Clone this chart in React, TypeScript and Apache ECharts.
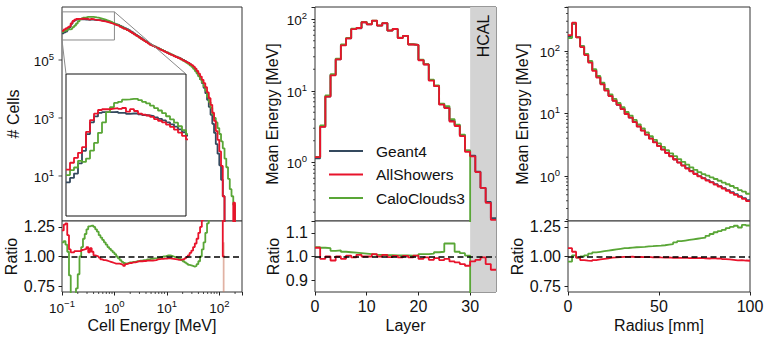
import React, { useEffect, useRef } from "react";
import * as echarts from "echarts";

// ---------------- shared ----------------
const SERIES_NAMES = ["Geant4", "AllShowers", "CaloClouds3"];
const COL_G4 = "#34495e";
const COL_AS = "#e8132b";
const COL_CC = "#59a636";
const TEXT = "#111111";
const FONT = "Liberation Sans";

// ---------------- left: cell energy spectrum ----------------
const CELL_LOG_E_MIN = -1;
const CELL_BINS_PER_DECADE = 30;
const CELL_X_RANGE = [0.1, 271.2];
const CELL_Y_RANGE = [0.28, 6.73e6];
const CELL_Y_LABELLED = [10, 1e3, 1e5];
const CELL_INSET_X = [0.1, 1.0];
const CELL_INSET_Y = [4.9e5, 4.57e6];
const CELL_RATIO_TICKS = [0.75, 1.0, 1.25];

const cellG4Counts = [
  8.32e5, 8.91e5, 9.55e5, 1.122e6, 1.365e6, 1.778e6, 2.138e6, 2.344e6, 2.483e6, 2.512e6,
  2.512e6, 2.51e6, 2.52e6, 2.48e6, 2.48e6, 2.44e6, 2.455e6, 2.455e6, 2.427e6, 2.399e6,
  2.38e6, 2.355e6, 2.307e6, 2.259e6, 2.203e6, 2.138e6, 2.07e6, 1.995e6, 1.914e6, 1.828e6,
  1.738e6, 1.66e6, 1.585e6, 1.496e6, 1.413e6, 1.318e6, 1.23e6, 1.148e6, 1.072e6, 9.77e5,
  8.91e5, 8.13e5, 7.41e5, 6.76e5, 6.17e5, 5.62e5, 5.13e5, 4.68e5, 4.27e5, 3.89e5,
  3.55e5, 3.31e5, 3.09e5, 2.88e5, 2.69e5, 2.51e5, 2.34e5, 2.19e5, 2.04e5, 1.905e5,
  1.778e5, 1.66e5, 1.567e5, 1.479e5, 1.38e5, 1.303e5, 1.23e5, 1.161e5, 1.072e5, 1.0e5,
  9.23e4, 8.51e4, 7.87e4, 7.03e4, 6.31e4, 5.46e4, 4.52e4, 3.63e4, 2.82e4, 2.14e4,
  1.585e4, 1.096e4, 7180, 4220, 2400, 1290, 631, 305, 126, 58.9,
  23.4, 7.4, 2.0, 0, 0, 0, 0, 0, 0, 0,
  0, 0, 0,
];
// AllShowers / Geant4 per bin (where Geant4 > 0)
const asCellRatio = [
  1.22, 1.27, 1.28, 1.18, 1.06, 1.035, 1.035, 1.045, 1.045, 1.045,
  1.045, 1.055, 1.06, 1.065, 1.08, 1.035, 1.07, 1.04, 1.01, 1.005,
  1.0, 0.99, 0.975, 0.97, 0.97, 0.965, 0.96, 0.955, 0.95, 0.945,
  0.94, 0.94, 0.94, 0.935, 0.93, 0.92, 0.935, 0.94, 0.945, 0.945,
  0.95, 0.95, 0.955, 0.96, 0.96, 0.96, 0.962, 0.962, 0.965, 0.965,
  0.965, 0.965, 0.968, 0.97, 0.975, 0.978, 0.98, 0.98, 0.982, 0.982,
  0.985, 0.985, 0.982, 0.98, 0.978, 0.975, 0.972, 0.972, 0.975, 0.975,
  0.985, 0.995, 1.01, 1.03, 1.05, 1.08, 1.11, 1.15, 1.2, 1.25,
  1.31, 1.45, 1.6, 1.8, 2.0, 2.2, 2.4, 2.6, 2.8, 3.0,
  3.0, 3.0, 1.0,
];
// CaloClouds3 / Geant4 per bin (where Geant4 > 0)
const ccCellRatio = [
  1.12, 1.13, 1.1, 1.04, 0.84, 0.68, 0.64, 0.66, 0.73, 0.85,
  1.0, 1.08, 1.15, 1.19, 1.23, 1.255, 1.26, 1.26, 1.25, 1.23,
  1.21, 1.18, 1.16, 1.14, 1.12, 1.1, 1.08, 1.065, 1.05, 1.035,
  1.02, 1.0, 0.985, 0.97, 0.955, 0.945, 0.94, 0.945, 0.95, 0.95,
  0.955, 0.955, 0.96, 0.96, 0.965, 0.965, 0.97, 0.97, 0.975, 0.975,
  0.98, 0.98, 0.985, 0.985, 0.985, 0.99, 0.995, 1.0, 1.0, 1.005,
  1.01, 1.01, 1.005, 1.0, 0.995, 0.99, 0.985, 0.98, 0.97, 0.96,
  0.95, 0.94, 0.93, 0.925, 0.92, 0.915, 0.92, 0.935, 0.96, 1.0,
  1.06, 1.12, 1.2, 1.28, 1.48, 1.74, 2.09, 3.27, 5.6, 7.6,
  12, 21, 45,
];
// counts beyond the last Geant4 bin
const asCellTail = [0, 0, 0, 0, 0, 1.2, 0, 0, 0, 0];
const ccCellTail = [39.8, 20, 7.9, 3.5, 2.0, 1.0, 0, 0, 0, 0];

// ---------------- middle: longitudinal profile ----------------
const LAYER_RANGE = [0, 35];
const LAYER_TICKS = [0, 10, 20, 30];
const HCAL_START = 30;
const LAYER_Y_RANGE = [0.151, 148.6];
const LAYER_RATIO_RANGE = [0.85, 1.15];
const LAYER_RATIO_TICKS = [0.9, 1.0, 1.1];
const layerG4Energy = [
  1.14, 3.16, 8.3, 16.7, 27.5, 43.7, 54, 73, 75, 91,
  85, 95, 81.5, 88, 69.5, 73, 55, 58.5, 44.6, 43.7,
  27, 23.4, 14.1, 11.7, 6.5, 5.8, 3.8, 3.3, 2.4, 1.46,
  1.24, 0.74, 0.44, 0.28, 0.166,
];
const asLayerRatio = [
  1.037, 0.99, 1.0, 0.983, 1.0, 0.99, 1.004, 0.996, 1.007, 1.0,
  1.0, 1.01, 1.0, 1.007, 0.997, 1.003, 0.996, 1.003, 0.996, 1.004,
  0.99, 0.996, 0.986, 0.993, 0.985, 0.99, 0.979, 0.975, 0.968, 0.961,
  0.979, 0.986, 0.996, 0.968, 0.944,
];
const ccLayerRatio = [
  1.04, 1.037, 1.035, 1.024, 1.026, 1.02, 1.018, 1.016, 1.014, 1.012,
  1.01, 1.008, 1.007, 1.006, 1.006, 1.005, 1.005, 1.005, 1.004, 1.004,
  1.01, 1.01, 1.012, 1.018, 1.02, 1.055, 1.055, 1.02, 1.014, 1.004,
  0, 0, 0, 0, 0,
];

// ---------------- right: radial profile ----------------
const RADIUS_RANGE = [0, 100];
const RADIUS_TICKS = [0, 50, 100];
const RADIUS_N_BINS = 45;
const RADIUS_Y_RANGE = [0.19, 506];
const radialG4Energy = [
  168, 273, 167, 119, 89, 67.5, 49.5, 38.4, 29.9, 23.6,
  19.2, 16.1, 13.8, 11.8, 9.85, 8.6, 7.3, 6.2, 5.35, 4.6,
  3.98, 3.47, 3.03, 2.66, 2.35, 2.08, 1.85, 1.65, 1.48, 1.33,
  1.2, 1.09, 0.995, 0.925, 0.859, 0.798, 0.741, 0.689, 0.64, 0.594,
  0.552, 0.513, 0.476, 0.443, 0.411,
];
const asRadialRatio = [
  1.07, 1.04, 0.99, 0.97, 0.965, 0.963, 0.97, 0.975, 0.98, 0.985,
  0.99, 0.992, 0.995, 0.997, 0.996, 0.998, 0.995, 0.997, 0.994, 0.996,
  0.993, 0.995, 0.992, 0.99, 0.992, 0.989, 0.991, 0.988, 0.99, 0.987,
  0.989, 0.986, 0.988, 0.985, 0.983, 0.986, 0.982, 0.984, 0.978, 0.975,
  0.972, 0.968, 0.97, 0.966, 0.964,
];
const ccRadialRatio = [
  0.957, 1.01, 0.99, 1.0, 1.01, 1.025, 1.035, 1.04, 1.045, 1.05,
  1.055, 1.06, 1.065, 1.07, 1.072, 1.075, 1.078, 1.08, 1.082, 1.085,
  1.087, 1.09, 1.092, 1.095, 1.1, 1.105, 1.12, 1.13, 1.135, 1.14,
  1.145, 1.15, 1.155, 1.16, 1.175, 1.19, 1.205, 1.215, 1.225, 1.24,
  1.25, 1.26, 1.245, 1.268, 1.262,
];
const RATIO_RANGE = [0.7, 1.3];

// ---------------- helpers ----------------
type Pt = [number, number];
function stepPoints(edges: number[], values: number[], floor: number): Pt[] {
  const pts: Pt[] = [];
  values.forEach((v, i) => {
    const y = v > 0 ? v : floor;
    pts.push([edges[i], y], [edges[i + 1], y]);
  });
  return pts;
}
function minorLog(min: number, max: number): number[] {
  const out: number[] = [];
  for (let e = Math.floor(Math.log10(min)); e <= Math.ceil(Math.log10(max)); e++) {
    for (let m = 2; m <= 9; m++) {
      const v = m * Math.pow(10, e);
      if (v > min && v < max) out.push(v);
    }
  }
  return out;
}

const cellEdges = Array.from(
  { length: cellG4Counts.length + 1 },
  (_, i) => Math.pow(10, CELL_LOG_E_MIN + i / CELL_BINS_PER_DECADE)
);
const nRatio = asCellRatio.length;
const cellAs = cellG4Counts.map((g, i) => (i < nRatio ? g * asCellRatio[i] : asCellTail[i - nRatio]));
const cellCc = cellG4Counts.map((g, i) => (i < nRatio ? g * ccCellRatio[i] : ccCellTail[i - nRatio]));

const layerEdges = Array.from({ length: layerG4Energy.length + 1 }, (_, i) => LAYER_RANGE[0] + i);
const layerAs = layerG4Energy.map((g, i) => g * asLayerRatio[i]);
const layerCc = layerG4Energy.map((g, i) => g * ccLayerRatio[i]);

const radialEdges = Array.from(
  { length: RADIUS_N_BINS + 1 },
  (_, i) => RADIUS_RANGE[0] + (i * (RADIUS_RANGE[1] - RADIUS_RANGE[0])) / RADIUS_N_BINS
);
const radialAs = radialG4Energy.map((g, i) => g * asRadialRatio[i]);
const radialCc = radialG4Energy.map((g, i) => g * ccRadialRatio[i]);

const powLabel = (oddOnly: boolean) => (v: number) => {
  const l = Math.log10(v);
  const e = Math.round(l);
  if (Math.abs(l - e) > 1e-6) return "";
  if (oddOnly && Math.abs(e % 2) !== 1) return "";
  const s = e < 0 ? "\u2212" + -e : String(e);
  return `{b|10}{s|${s}}`;
};
const powRich = {
  b: { fontFamily: FONT, fontSize: 13.5, color: TEXT, lineHeight: 17, verticalAlign: "bottom" },
  s: { fontFamily: FONT, fontSize: 9.5, color: TEXT, lineHeight: 10, verticalAlign: "top" },
};

const tick = { show: true, length: 3.5, inside: false, lineStyle: { color: "#222", width: 1 } };
const nameStyle = { fontFamily: FONT, fontSize: 16, color: TEXT };
const linLabel = { fontFamily: FONT, fontSize: 16, color: TEXT, margin: 7 };
const LINE_W = 1.8;

function line(name: string, color: string, idx: number, data: Pt[], z: number, extra: any = {}) {
  return {
    type: "line", name, xAxisIndex: idx, yAxisIndex: idx, data,
    symbol: "none", showSymbol: false,
    lineStyle: { color, width: LINE_W }, itemStyle: { color },
    z, silent: true, animation: false, clip: true, ...extra,
  };
}
// small tick marks drawn through the axis scales (for minor / selective ticks)
function tickMarks(idx: number, dir: "x" | "y", values: number[], at: number, len: number) {
  return {
    type: "scatter", name: "ticks", xAxisIndex: idx, yAxisIndex: idx,
    data: values.map((v) => (dir === "y" ? [at, v] : [v, at])),
    symbol: "rect",
    symbolSize: dir === "y" ? [len, 1] : [1, len],
    symbolOffset: dir === "y" ? [-len / 2, 0] : [0, len / 2],
    itemStyle: { color: "#222" },
    clip: false, silent: true, z: 12, animation: false,
  };
}

const dashedOne = {
  silent: true, symbol: "none", label: { show: false },
  lineStyle: { type: [6, 3.5], color: "#000", width: 1.5 },
  data: [{ yAxis: 1 }], z: 10,
};

const hcalArea = {
  silent: true, itemStyle: { color: "#d3d3d3" },
  data: [[{ xAxis: HCAL_START }, { xAxis: LAYER_RANGE[1] }]],
};

function buildOption(): any {
  const grids = [
    { left: 62, top: 7, width: 180, height: 214, c: "#333" },
    { left: 62, top: 221, width: 180, height: 71, c: "#333" },
    { left: 315, top: 7, width: 181, height: 214, c: "#333" },
    { left: 315, top: 221, width: 181, height: 71, c: "#333" },
    { left: 568, top: 7, width: 182, height: 214, c: "#333" },
    { left: 568, top: 221, width: 182, height: 71, c: "#333" },
    { left: 66, top: 74, width: 120, height: 142, c: "#111" },
  ].map(({ c, ...g }) => ({ ...g, show: true, borderColor: c, borderWidth: 1, backgroundColor: "#fff", containLabel: false }));

  const hiddenX = (i: number, type: string, min: number, max: number) => ({
    gridIndex: i, type, min, max, show: false, splitLine: { show: false },
  });

  const xAxis = [
    hiddenX(0, "log", CELL_X_RANGE[0], CELL_X_RANGE[1]),
    {
      gridIndex: 1, type: "log", logBase: 10, min: CELL_X_RANGE[0], max: CELL_X_RANGE[1],
      splitLine: { show: false }, axisLine: { show: false }, axisTick: tick,
      axisLabel: { formatter: powLabel(false), rich: powRich, margin: 6 },
      name: "Cell Energy [MeV]", nameLocation: "middle", nameGap: 25, nameTextStyle: nameStyle,
    },
    hiddenX(2, "value", LAYER_RANGE[0], LAYER_RANGE[1]),
    {
      gridIndex: 3, type: "value", min: LAYER_RANGE[0], max: LAYER_RANGE[1],
      splitLine: { show: false }, axisLine: { show: false },
      axisTick: { ...tick, customValues: LAYER_TICKS },
      axisLabel: { ...linLabel, margin: 6, customValues: LAYER_TICKS },
      name: "Layer", nameLocation: "middle", nameGap: 25, nameTextStyle: nameStyle,
    },
    hiddenX(4, "value", RADIUS_RANGE[0], RADIUS_RANGE[1]),
    {
      gridIndex: 5, type: "value", min: RADIUS_RANGE[0], max: RADIUS_RANGE[1],
      splitLine: { show: false }, axisLine: { show: false },
      axisTick: { ...tick, customValues: RADIUS_TICKS },
      axisLabel: { ...linLabel, margin: 6, customValues: RADIUS_TICKS },
      name: "Radius [mm]", nameLocation: "middle", nameGap: 25, nameTextStyle: nameStyle,
    },
    hiddenX(6, "log", CELL_INSET_X[0], CELL_INSET_X[1]),
  ];

  const logY = (i: number, min: number, max: number, oddOnly: boolean, name: string, gap: number) => ({
    gridIndex: i, type: "log", logBase: 10, min, max,
    splitLine: { show: false }, axisLine: { show: false },
    axisTick: oddOnly ? { show: false } : tick,
    axisLabel: { formatter: powLabel(oddOnly), rich: powRich, margin: 8 },
    name, nameLocation: "middle", nameGap: gap, nameTextStyle: nameStyle,
  });
  const ratioY = (i: number, range: number[], ticks: number[], digits: number, gap: number) => ({
    gridIndex: i, type: "value", min: range[0], max: range[1],
    splitLine: { show: false }, axisLine: { show: false },
    axisTick: { ...tick, customValues: ticks },
    axisLabel: { ...linLabel, customValues: ticks, formatter: (v: number) => v.toFixed(digits) },
    name: "Ratio", nameLocation: "middle", nameGap: gap, nameTextStyle: nameStyle,
  });

  const yAxis = [
    logY(0, CELL_Y_RANGE[0], CELL_Y_RANGE[1], true, "# Cells", 41),
    ratioY(1, RATIO_RANGE, CELL_RATIO_TICKS, 2, 41),
    logY(2, LAYER_Y_RANGE[0], LAYER_Y_RANGE[1], false, "Mean Energy [MeV]", 35),
    ratioY(3, LAYER_RATIO_RANGE, LAYER_RATIO_TICKS, 1, 34),
    logY(4, RADIUS_Y_RANGE[0], RADIUS_Y_RANGE[1], false, "Mean Energy [MeV]", 38),
    ratioY(5, RATIO_RANGE, CELL_RATIO_TICKS, 2, 41),
    { gridIndex: 6, type: "log", min: CELL_INSET_Y[0], max: CELL_INSET_Y[1], show: false, splitLine: { show: false } },
  ];

  const ratioEdges = cellEdges.slice(0, nRatio + 1);
  const series: any[] = [
    // left main
    line(SERIES_NAMES[0], COL_G4, 0, stepPoints(cellEdges, cellG4Counts, 1e-3), 3, {
      markArea: {
        silent: true,
        itemStyle: { color: "rgba(0,0,0,0)", borderColor: "#8a8a8a", borderWidth: 1 },
        data: [[{ coord: [CELL_INSET_X[0], CELL_INSET_Y[0]] }, { coord: [CELL_INSET_X[1], CELL_INSET_Y[1]] }]],
      },
    }),
    line(SERIES_NAMES[2], COL_CC, 0, stepPoints(cellEdges, cellCc, 1e-3), 4),
    line(SERIES_NAMES[1], COL_AS, 0, stepPoints(cellEdges, cellAs, 1e-3), 5),
    tickMarks(0, "y", CELL_Y_LABELLED, CELL_X_RANGE[0], 3.5),
    // left ratio
    line(SERIES_NAMES[2], COL_CC, 1, stepPoints(ratioEdges, ccCellRatio, 0), 4),
    line(SERIES_NAMES[1], COL_AS, 1, stepPoints(ratioEdges, asCellRatio, 0), 5, {
      markLine: dashedOne,
      markArea: {
        silent: true,
        itemStyle: { color: "rgba(200,115,90,0.55)" },
        data: [[{ xAxis: cellEdges[nRatio - 1], yAxis: RATIO_RANGE[0] }, { xAxis: cellEdges[nRatio], yAxis: 1.12 }]],
      },
    }),
    tickMarks(1, "x", minorLog(CELL_X_RANGE[0], CELL_X_RANGE[1]), RATIO_RANGE[0], 2),
    // middle main
    line(SERIES_NAMES[0], COL_G4, 2, stepPoints(layerEdges, layerG4Energy, 1e-3), 3, { markArea: hcalArea }),
    line(SERIES_NAMES[2], COL_CC, 2, stepPoints(layerEdges, layerCc, 1e-3), 4),
    line(SERIES_NAMES[1], COL_AS, 2, stepPoints(layerEdges, layerAs, 1e-3), 5),
    tickMarks(2, "y", minorLog(LAYER_Y_RANGE[0], LAYER_Y_RANGE[1]), LAYER_RANGE[0], 2),
    // middle ratio
    line(SERIES_NAMES[2], COL_CC, 3, stepPoints(layerEdges, ccLayerRatio, 0), 4, { markArea: hcalArea }),
    line(SERIES_NAMES[1], COL_AS, 3, stepPoints(layerEdges, asLayerRatio, 0), 5, { markLine: dashedOne }),
    // right main
    line(SERIES_NAMES[0], COL_G4, 4, stepPoints(radialEdges, radialG4Energy, 1e-3), 3),
    line(SERIES_NAMES[2], COL_CC, 4, stepPoints(radialEdges, radialCc, 1e-3), 4),
    line(SERIES_NAMES[1], COL_AS, 4, stepPoints(radialEdges, radialAs, 1e-3), 5),
    tickMarks(4, "y", minorLog(RADIUS_Y_RANGE[0], RADIUS_Y_RANGE[1]), RADIUS_RANGE[0], 2),
    // right ratio
    line(SERIES_NAMES[2], COL_CC, 5, stepPoints(radialEdges, ccRadialRatio, 0), 4),
    line(SERIES_NAMES[1], COL_AS, 5, stepPoints(radialEdges, asRadialRatio, 0), 5, { markLine: dashedOne }),
    // inset
    line(SERIES_NAMES[0], COL_G4, 6, stepPoints(cellEdges, cellG4Counts, 1e-3), 3),
    line(SERIES_NAMES[2], COL_CC, 6, stepPoints(cellEdges, cellCc, 1e-3), 4),
    line(SERIES_NAMES[1], COL_AS, 6, stepPoints(cellEdges, cellAs, 1e-3), 5),
  ];

  return {
    animation: false,
    backgroundColor: "#ffffff",
    textStyle: { fontFamily: FONT },
    grid: grids,
    xAxis,
    yAxis,
    legend: {
      data: SERIES_NAMES, orient: "vertical", left: 324, top: 136,
      icon: "rect", itemWidth: 34, itemHeight: 2, itemGap: 3.5, selectedMode: false,
      textStyle: { fontFamily: FONT, fontSize: 15.5, color: TEXT, lineHeight: 20, padding: [0, 0, 0, 8] },
    },
    series,
  };
}

export default function App() {
  const ref = useRef<HTMLDivElement>(null);
  useEffect(() => {
    const el = ref.current;
    if (!el) return;
    const chart = echarts.init(el, undefined, { renderer: "svg" });
    chart.setOption(buildOption());
    const toPx = (i: number, p: number[]) =>
      chart.convertToPixel({ xAxisIndex: i, yAxisIndex: i } as any, p) as unknown as number[];
    const boxBL = toPx(0, [CELL_INSET_X[0], CELL_INSET_Y[0]]);
    const boxTR = toPx(0, [CELL_INSET_X[1], CELL_INSET_Y[1]]);
    const insTL = toPx(6, [CELL_INSET_X[0], CELL_INSET_Y[1]]);
    const insTR = toPx(6, [CELL_INSET_X[1], CELL_INSET_Y[1]]);
    const hcalTop = toPx(2, [(HCAL_START + LAYER_RANGE[1]) / 2, LAYER_Y_RANGE[1]]);
    chart.setOption({
      graphic: [
        { type: "line", silent: true, z: 50, shape: { x1: boxBL[0], y1: boxBL[1], x2: insTL[0], y2: insTL[1] }, style: { stroke: "#8a8a8a", lineWidth: 1 } },
        { type: "line", silent: true, z: 50, shape: { x1: boxTR[0], y1: boxTR[1], x2: insTR[0], y2: insTR[1] }, style: { stroke: "#8a8a8a", lineWidth: 1 } },
        {
          type: "text", silent: true, z: 50, x: hcalTop[0], y: hcalTop[1] + 29, rotation: Math.PI / 2,
          style: { text: "HCAL", fontFamily: FONT, fontSize: 16, fill: TEXT, align: "center", verticalAlign: "middle" },
        },
      ],
    });
    return () => chart.dispose();
  }, []);
  return <div ref={ref} style={{ position: "absolute", left: 0, top: 0, width: 769, height: 342 }} />;
}
